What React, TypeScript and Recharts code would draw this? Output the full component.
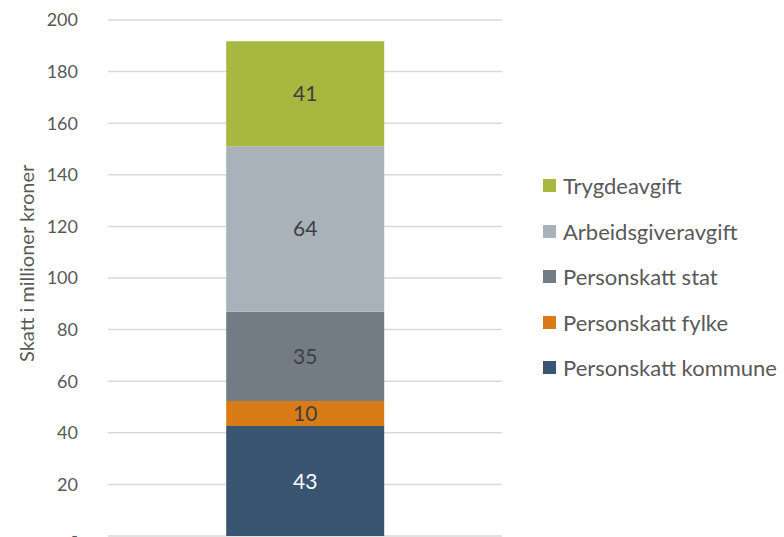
import { BarChart, Bar, XAxis, YAxis, CartesianGrid, LabelList } from 'recharts';

// ---------------------------------------------------------------------------
// Data
// ---------------------------------------------------------------------------

const categories = ['Skatt'];
const seriesNames = [
  'Personskatt kommune',
  'Personskatt fylke',
  'Personskatt stat',
  'Arbeidsgiveravgift',
  'Trygdeavgift',
];
const seriesValues = [42.6, 9.7, 34.6, 64.2, 40.7];
const seriesColors = ['#3a5572', '#d97c17', '#737b84', '#a9b1b9', '#a7b740'];
const labelColors = ['#ffffff', '#404040', '#404040', '#404040', '#404040'];
const yTicks = [0, 20, 40, 60, 80, 100, 120, 140, 160, 180, 200];

const chartData = categories.map((name) => {
  const row: Record<string, number | string> = { name };
  seriesNames.forEach((s, i) => {
    row[s] = seriesValues[i];
  });
  return row;
});

const FONT = 'Lato, "Open Sans", sans-serif';

// ---------------------------------------------------------------------------
// Legend (top-down, reverse of stacking order)
// ---------------------------------------------------------------------------

function SideLegend() {
  const items = seriesNames.map((n, i) => ({ name: n, color: seriesColors[i] })).reverse();
  return (
    <div
      style={{
        position: 'absolute',
        left: 543,
        top: 163,
        fontFamily: FONT,
        fontSize: 22,
        color: '#595959',
      }}
    >
      {items.map((it) => (
        <div
          key={it.name}
          style={{ display: 'flex', alignItems: 'center', height: 45.5, whiteSpace: 'nowrap' }}
        >
          <span
            style={{ width: 13, height: 13, background: it.color, display: 'inline-block', marginRight: 7 }}
          />
          {it.name}
        </div>
      ))}
    </div>
  );
}

// ---------------------------------------------------------------------------
// Component
// ---------------------------------------------------------------------------

export default function App() {
  return (
    <div style={{ position: 'absolute', left: 0, top: 0, width: 784, height: 537, background: '#fff' }}>
      <BarChart
        width={784}
        height={537}
        data={chartData}
        margin={{ top: 20, right: 282, bottom: 1, left: 0 }}
        barCategoryGap="30%"
      >
        <CartesianGrid vertical={false} stroke="#d9d9d9" strokeWidth={1.5} />
        <XAxis dataKey="name" hide />
        <YAxis
          width={108}
          domain={[0, 200]}
          ticks={yTicks}
          interval={0}
          axisLine={false}
          tickLine={false}
          tickMargin={24}
          tickFormatter={(v: number) => (v === 0 ? '-' : String(v))}
          tick={{ fontSize: 18, fill: '#595959', fontFamily: FONT }}
          label={{
            value: 'Skatt i millioner kroner',
            angle: -90,
            position: 'insideLeft',
            dx: 22,
            dy: 84,
            style: { fontSize: 20, fill: '#595959', fontFamily: FONT },
          }}
        />
        {seriesNames.map((s, i) => (
          <Bar key={s} dataKey={s} stackId="a" fill={seriesColors[i]} isAnimationActive={false}>
            <LabelList
              dataKey={s}
              position="center"
              formatter={(v: number) => Math.round(v)}
              style={{ fontSize: 21, fill: labelColors[i], fontFamily: FONT }}
            />
          </Bar>
        ))}
      </BarChart>
      <SideLegend />
    </div>
  );
}
